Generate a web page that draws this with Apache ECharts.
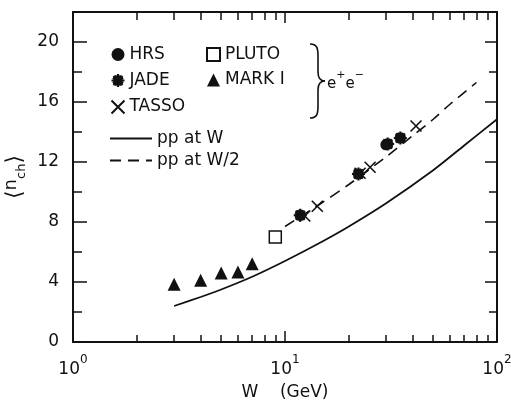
<!DOCTYPE html>
<html>
<head>
<meta charset="utf-8">
<script src="https://cdn.jsdelivr.net/npm/echarts@6/dist/echarts.min.js"></script>
<style>html,body{margin:0;padding:0;background:#fff}#c{width:511px;height:400px}</style>
</head>
<body>
<div id="c"></div>
<script>
// ---- data ----
const HRS_W = [29.9];
const HRS_N = [13.15];
const JADE_W = [11.8, 22.2, 30.5, 35.0];
const JADE_N = [8.45, 11.2, 13.2, 13.6];
const TASSO_W = [12.4, 14.2, 22.6, 25.2, 41.5];
const TASSO_N = [8.4, 9.05, 11.25, 11.65, 14.4];
const PLUTO_W = [9.0];
const PLUTO_N = [7.0];
const MARK_W = [3.0, 4.0, 5.0, 6.0, 7.0];
const MARK_N = [3.85, 4.12, 4.6, 4.66, 5.22];
const PPW_W = [3, 4, 5, 7, 10, 15, 20, 30, 50, 70, 100];
const PPW_N = [2.4, 3.0, 3.5, 4.35, 5.4, 6.7, 7.7, 9.25, 11.45, 13.1, 14.85];
const PPW2_W = [10, 15, 20, 30, 40, 50, 60, 80];
const PPW2_N = [7.7, 9.3, 10.5, 12.35, 13.75, 14.85, 15.85, 17.3];
const X_MAJOR = [1, 10, 100];
const X_MINOR = [2, 3, 4, 5, 6, 7, 8, 9, 20, 30, 40, 50, 60, 70, 80, 90];
const Y_MAJOR = [0, 4, 8, 12, 16, 20];
const Y_MINOR = [2, 6, 10, 14, 18];

const pairs = (xs, ys) => xs.map((x, i) => [x, ys[i]]);
const FONT = 'DejaVu Sans';
const INK = '#111';

const ASTER = 'path://M5,0L5,10M0,5L10,5M1.5,1.5L8.5,8.5M8.5,1.5L1.5,8.5M3,1L7,9M7,1L3,9M1,3L9,7M9,3L1,7';
const CROSS = 'path://M0,0L10,10M10,0L0,10';

function xAxisBase(pos, ticks, len, showLine, showLabel) {
  return {
    type: 'log', logBase: 10, min: 1, max: 100, position: pos,
    axisLine: { show: showLine, onZero: false, lineStyle: { color: INK, width: 2 } },
    axisTick: { show: true, inside: true, length: len, customValues: ticks, lineStyle: { color: INK, width: 1.5 } },
    axisLabel: showLabel ? {
      show: true, customValues: X_MAJOR, margin: 12,
      formatter: v => '{b|10}{s|' + Math.round(Math.log10(v)) + '}',
      rich: {
        b: { fontFamily: FONT, fontSize: 17, color: INK, lineHeight: 24, verticalAlign: 'bottom' },
        s: { fontFamily: FONT, fontSize: 12, color: INK, lineHeight: 24, verticalAlign: 'top' }
      }
    } : { show: false },
    splitLine: { show: false }
  };
}
function yAxisBase(pos, ticks, len, showLine, showLabel) {
  return {
    type: 'value', min: 0, max: 22, position: pos,
    axisLine: { show: showLine, onZero: false, lineStyle: { color: INK, width: 2 } },
    axisTick: { show: true, inside: true, length: len, customValues: ticks, lineStyle: { color: INK, width: 1.5 } },
    axisLabel: showLabel ? {
      show: true, customValues: Y_MAJOR, margin: 14,
      fontFamily: FONT, fontSize: 17, color: INK
    } : { show: false },
    splitLine: { show: false }
  };
}

const xAxes = [
  Object.assign(xAxisBase('bottom', X_MAJOR, 11, true, true), {
    name: 'W    (GeV)', nameLocation: 'middle', nameGap: 42,
    nameTextStyle: { fontFamily: FONT, fontSize: 17, color: INK }
  }),
  xAxisBase('bottom', X_MINOR, 7, false, false),
  xAxisBase('top', X_MAJOR, 11, true, false),
  xAxisBase('top', X_MINOR, 8, false, false)
];
const yAxes = [
  Object.assign(yAxisBase('left', Y_MAJOR, 14, true, true), {
    name: '{k|⟨}{n|n}{s|ch}{k|⟩}', nameLocation: 'middle', nameRotate: 90, nameGap: 45,
    nameMoveOverlap: false,
    nameTextStyle: {
      fontFamily: FONT, fontSize: 17, color: INK,
      rich: {
        k: { fontFamily: FONT, fontSize: 22, color: INK, lineHeight: 26, verticalAlign: 'middle' },
        n: { fontFamily: FONT, fontSize: 18, color: INK, lineHeight: 26, verticalAlign: 'top' },
        s: { fontFamily: FONT, fontSize: 13, color: INK, lineHeight: 26, verticalAlign: 'bottom' }
      }
    }
  }),
  yAxisBase('left', Y_MINOR, 9, false, false),
  yAxisBase('right', Y_MAJOR, 12, true, false),
  yAxisBase('right', Y_MINOR, 8, false, false)
];

const legendText = { fontFamily: FONT, fontSize: 17, color: INK };
const braceStyle = { fill: 'none', stroke: INK, lineWidth: 1.6 };

const option = {
  animation: false,
  backgroundColor: '#fff',
  grid: { left: 73, right: 14, top: 12, bottom: 58, containLabel: false, outerBoundsMode: 'none' },
  xAxis: xAxes,
  yAxis: yAxes,
  legend: [
    { data: ['HRS', 'JADE', 'TASSO'], orient: 'vertical', left: 104, top: 41,
      itemWidth: 13, itemHeight: 13, itemGap: 8.5, selectedMode: false, textStyle: legendText },
    { data: ['PLUTO', 'MARK I'], orient: 'vertical', left: 201, top: 41,
      itemWidth: 13, itemHeight: 13, itemGap: 8.5, selectedMode: false, textStyle: legendText },
    { data: ['pp at W', 'pp at W/2'], orient: 'vertical', left: 104, top: 125,
      itemWidth: 42, itemHeight: 14, itemGap: 5, selectedMode: false,
      itemStyle: { color: 'rgba(0,0,0,0)', borderWidth: 0, opacity: 0 },
      textStyle: { fontFamily: FONT, fontSize: 17, color: INK } }
  ],
  graphic: [
    { type: 'bezierCurve', shape: { x1: 310, y1: 44, cpx1: 317, cpy1: 44, cpx2: 318, cpy2: 48, x2: 318, y2: 56 }, style: braceStyle },
    { type: 'line', shape: { x1: 318, y1: 56, x2: 318, y2: 72 }, style: braceStyle },
    { type: 'bezierCurve', shape: { x1: 318, y1: 72, cpx1: 318, cpy1: 78, cpx2: 320, cpy2: 81, x2: 325, y2: 81 }, style: braceStyle },
    { type: 'bezierCurve', shape: { x1: 325, y1: 81, cpx1: 320, cpy1: 81, cpx2: 318, cpy2: 84, x2: 318, y2: 90 }, style: braceStyle },
    { type: 'line', shape: { x1: 318, y1: 90, x2: 318, y2: 106 }, style: braceStyle },
    { type: 'bezierCurve', shape: { x1: 318, y1: 106, cpx1: 318, cpy1: 114, cpx2: 317, cpy2: 118, x2: 310, y2: 118 }, style: braceStyle },
    { type: 'text', left: 327, top: 70, style: {
        text: '{b|e}{s|+}{b|e}{s|−}',
        rich: {
          b: { fontFamily: FONT, fontSize: 15, fill: INK, lineHeight: 22, verticalAlign: 'bottom' },
          s: { fontFamily: FONT, fontSize: 11, fill: INK, lineHeight: 22, verticalAlign: 'top' }
        }
      } }
  ],
  series: [
    { name: 'pp at W', type: 'line', data: pairs(PPW_W, PPW_N), smooth: 0.3,
      showSymbol: false, symbol: 'none', lineStyle: { color: INK, width: 1.8 }, itemStyle: { color: INK }, z: 2 },
    { name: 'pp at W/2', type: 'line', data: pairs(PPW2_W, PPW2_N), smooth: 0.3,
      showSymbol: false, symbol: 'none', lineStyle: { color: INK, width: 1.6, type: [11, 7] }, itemStyle: { color: INK }, z: 2 },
    { name: 'MARK I', type: 'scatter', data: pairs(MARK_W, MARK_N), symbol: 'triangle', symbolSize: 13,
      itemStyle: { color: INK, opacity: 1 }, z: 3 },
    { name: 'PLUTO', type: 'scatter', data: pairs(PLUTO_W, PLUTO_N), symbol: 'rect', symbolSize: 12,
      itemStyle: { color: '#fff', borderColor: INK, borderWidth: 1.5, opacity: 1 }, z: 3 },
    { name: 'TASSO', type: 'scatter', data: pairs(TASSO_W, TASSO_N), symbol: CROSS, symbolSize: 11,
      itemStyle: { color: 'none', borderColor: INK, borderWidth: 1.6, opacity: 1 }, z: 4 },
    { name: 'JADE', type: 'scatter', data: pairs(JADE_W, JADE_N), symbol: ASTER, symbolSize: 13,
      itemStyle: { color: 'none', borderColor: INK, borderWidth: 2.2, opacity: 1 }, z: 4 },
    { name: 'HRS', type: 'scatter', data: pairs(HRS_W, HRS_N), symbol: 'circle', symbolSize: 11,
      itemStyle: { color: INK, opacity: 1 }, z: 5 }
  ]
};
const chart = echarts.init(document.getElementById('c'), null, { renderer: 'canvas' });
chart.setOption(option);
</script>
</body>
</html>
